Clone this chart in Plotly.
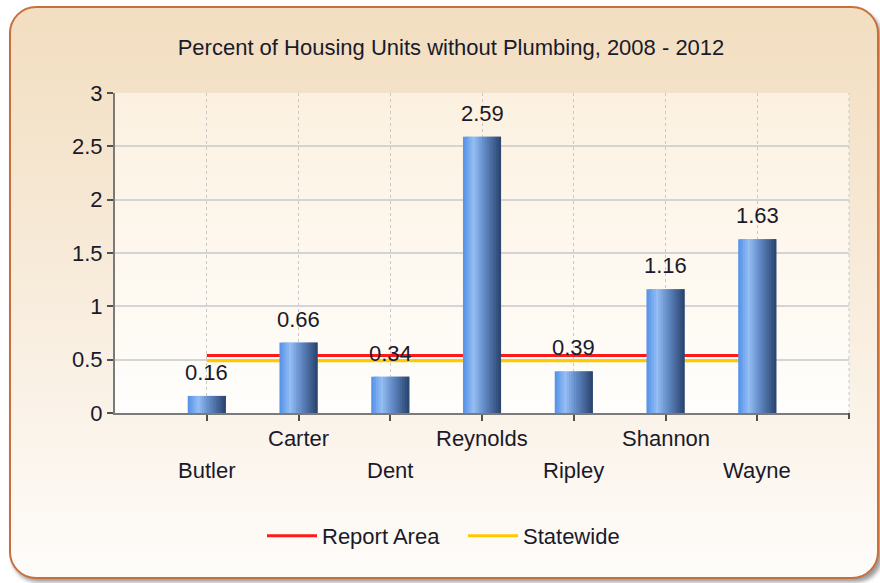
import base64
import plotly.graph_objects as go

# ---------------- data ----------------
counties = ["Butler", "Carter", "Dent", "Reynolds", "Ripley", "Shannon", "Wayne"]
pct_no_plumbing = [0.16, 0.66, 0.34, 2.59, 0.39, 1.16, 1.63]
report_area_value = 0.54
statewide_value = 0.49
y_tick_vals = [0, 0.5, 1, 1.5, 2, 2.5, 3]
y_tick_text = ["0", "0.5", "1", "1.5", "2", "2.5", "3"]
title_text = "Percent of Housing Units without Plumbing, 2008 - 2012"

# ---------------- geometry / style ----------------
W, H = 880, 583
ML, MR, MT, MB = 115, 31, 93, 170
PW, PH = W - ML - MR, H - MT - MB
FONT = "Liberation Sans, Arial, sans-serif"
TXT = "#1a1a2a"
FS = 22


def svg_uri(svg):
    return "data:image/svg+xml;base64," + base64.b64encode(svg.encode()).decode()


card_svg = f"""<svg xmlns='http://www.w3.org/2000/svg' width='{W}' height='{H}' viewBox='0 0 {W} {H}'>
<defs>
<linearGradient id='g' x1='0' y1='0' x2='0' y2='1'>
<stop offset='0' stop-color='#f2dec0'/>
<stop offset='0.5' stop-color='#f8ecdc'/>
<stop offset='1' stop-color='#fefcfa'/>
</linearGradient>
<filter id='b'><feGaussianBlur stdDeviation='2'/></filter>
</defs>
<rect x='12' y='11' width='870' height='571' rx='26' fill='#9a9a9a' filter='url(#b)'/>
<rect x='10' y='7' width='868' height='571' rx='26' fill='url(#g)' stroke='#c8703c' stroke-width='2'/>
</svg>"""

plot_svg = f"""<svg xmlns='http://www.w3.org/2000/svg' width='{PW}' height='{PH}' viewBox='0 0 {PW} {PH}' preserveAspectRatio='none'>
<defs><linearGradient id='p' x1='0' y1='0' x2='0' y2='1'>
<stop offset='0' stop-color='#fcf1e0'/>
<stop offset='1' stop-color='#fffefc'/>
</linearGradient></defs>
<rect x='0' y='0' width='{PW}' height='{PH}' fill='url(#p)'/>
</svg>"""

fig = go.Figure()

# reference lines (base axes, drawn beneath the bars)
fig.add_trace(go.Scatter(x=counties, y=[report_area_value] * len(counties), mode="lines",
                         name="Report Area", line=dict(color="#ff1a1a", width=3),
                         hoverinfo="skip"))
fig.add_trace(go.Scatter(x=counties, y=[statewide_value] * len(counties), mode="lines",
                         name="Statewide", line=dict(color="#ffc800", width=3),
                         hoverinfo="skip"))

# bars with a horizontal gradient built from thin overlapping slices
stops = [(0.0, (82, 144, 232)), (0.28, (148, 190, 243)), (0.55, (100, 140, 200)),
         (1.0, (40, 66, 108))]


def grad(t):
    for (t0, c0), (t1, c1) in zip(stops, stops[1:]):
        if t <= t1:
            f = (t - t0) / (t1 - t0)
            return "rgb(%d,%d,%d)" % tuple(round(a + (b - a) * f) for a, b in zip(c0, c1))
    return "rgb(%d,%d,%d)" % stops[-1][1]


BAR_W = 0.415
N = 16
sw = BAR_W / N
for i in range(N):
    fig.add_trace(go.Bar(x=counties, y=pct_no_plumbing, xaxis="x2", yaxis="y2",
                         width=sw * (2 if i < N - 1 else 1), offset=-BAR_W / 2 + i * sw,
                         marker=dict(color=grad((i + 0.5) / N), line=dict(width=0)),
                         showlegend=False, hoverinfo="skip"))

# value labels
annotations = []
for c, v in zip(counties, pct_no_plumbing):
    annotations.append(dict(x=c, y=v, xref="x2", yref="y2", text=f"{v:g}",
                            showarrow=False, yanchor="bottom", yshift=9,
                            font=dict(family=FONT, size=FS, color=TXT)))
# staggered category labels
for i, c in enumerate(counties):
    annotations.append(dict(x=c, y=(-25 if i % 2 else -57) / PH, xref="x", yref="paper",
                            text=c, showarrow=False, yanchor="middle",
                            font=dict(family=FONT, size=FS, color=TXT)))

axis_common = dict(range=[-1, 7], type="category", categoryorder="array",
                   categoryarray=counties)

fig.update_layout(
    width=W, height=H,
    margin=dict(l=ML, r=MR, t=MT, b=MB),
    paper_bgcolor="white",
    plot_bgcolor="rgba(0,0,0,0)",
    font=dict(family=FONT, size=FS, color=TXT),
    title=dict(text=title_text, x=451 / W, xanchor="center", y=1 - 47 / H, yanchor="middle",
               font=dict(family=FONT, size=FS, color=TXT)),
    barmode="overlay",
    showlegend=True,
    legend=dict(orientation="h", x=(262 - ML) / PW, xanchor="left",
                y=-(536 - (H - MB)) / PH, yanchor="middle", entrywidth=136,
                bgcolor="rgba(0,0,0,0)", font=dict(family=FONT, size=FS, color=TXT),
                itemwidth=50, traceorder="normal"),
    xaxis=dict(**axis_common, showgrid=True, gridcolor="#c8c8c8", griddash="dot",
               gridwidth=1, showline=True, linecolor="#7a7a7a", linewidth=2,
               ticks="outside", ticklen=6, tickwidth=2, tickcolor="#505050",
               showticklabels=False, zeroline=False, fixedrange=True),
    yaxis=dict(range=[0, 3], tickvals=y_tick_vals, ticktext=y_tick_text,
               showgrid=True, gridcolor="#d4d4d4", gridwidth=2,
               showline=True, linecolor="#7a7a7a", linewidth=2,
               ticks="outside", ticklen=6, tickwidth=2, tickcolor="#505050",
               zeroline=False, fixedrange=True,
               tickfont=dict(family=FONT, size=FS, color=TXT)),
    xaxis2=dict(**axis_common, overlaying="x", visible=False, fixedrange=True),
    yaxis2=dict(range=[0, 3], overlaying="y", visible=False, fixedrange=True),
    annotations=annotations,
    shapes=[dict(type="line", xref="paper", yref="paper", x0=1, x1=1, y0=0, y1=1,
                 line=dict(color="#c8c8c8", width=1, dash="dot")),
            dict(type="line", xref="paper", yref="paper", x0=1, x1=1, y0=0, y1=-6 / PH,
                 line=dict(color="#505050", width=2))],
    images=[dict(source=svg_uri(card_svg), xref="paper", yref="paper",
                 x=-ML / PW, y=1 + MT / PH, sizex=W / PW, sizey=H / PH,
                 xanchor="left", yanchor="top", sizing="stretch", layer="below"),
            dict(source=svg_uri(plot_svg), xref="paper", yref="paper",
                 x=0, y=1, sizex=1, sizey=1, xanchor="left", yanchor="top",
                 sizing="stretch", layer="below")],
)

fig.write_html("out.html", config={"displayModeBar": False},
               post_script="document.body.style.margin='0';document.body.style.overflow='hidden';")
